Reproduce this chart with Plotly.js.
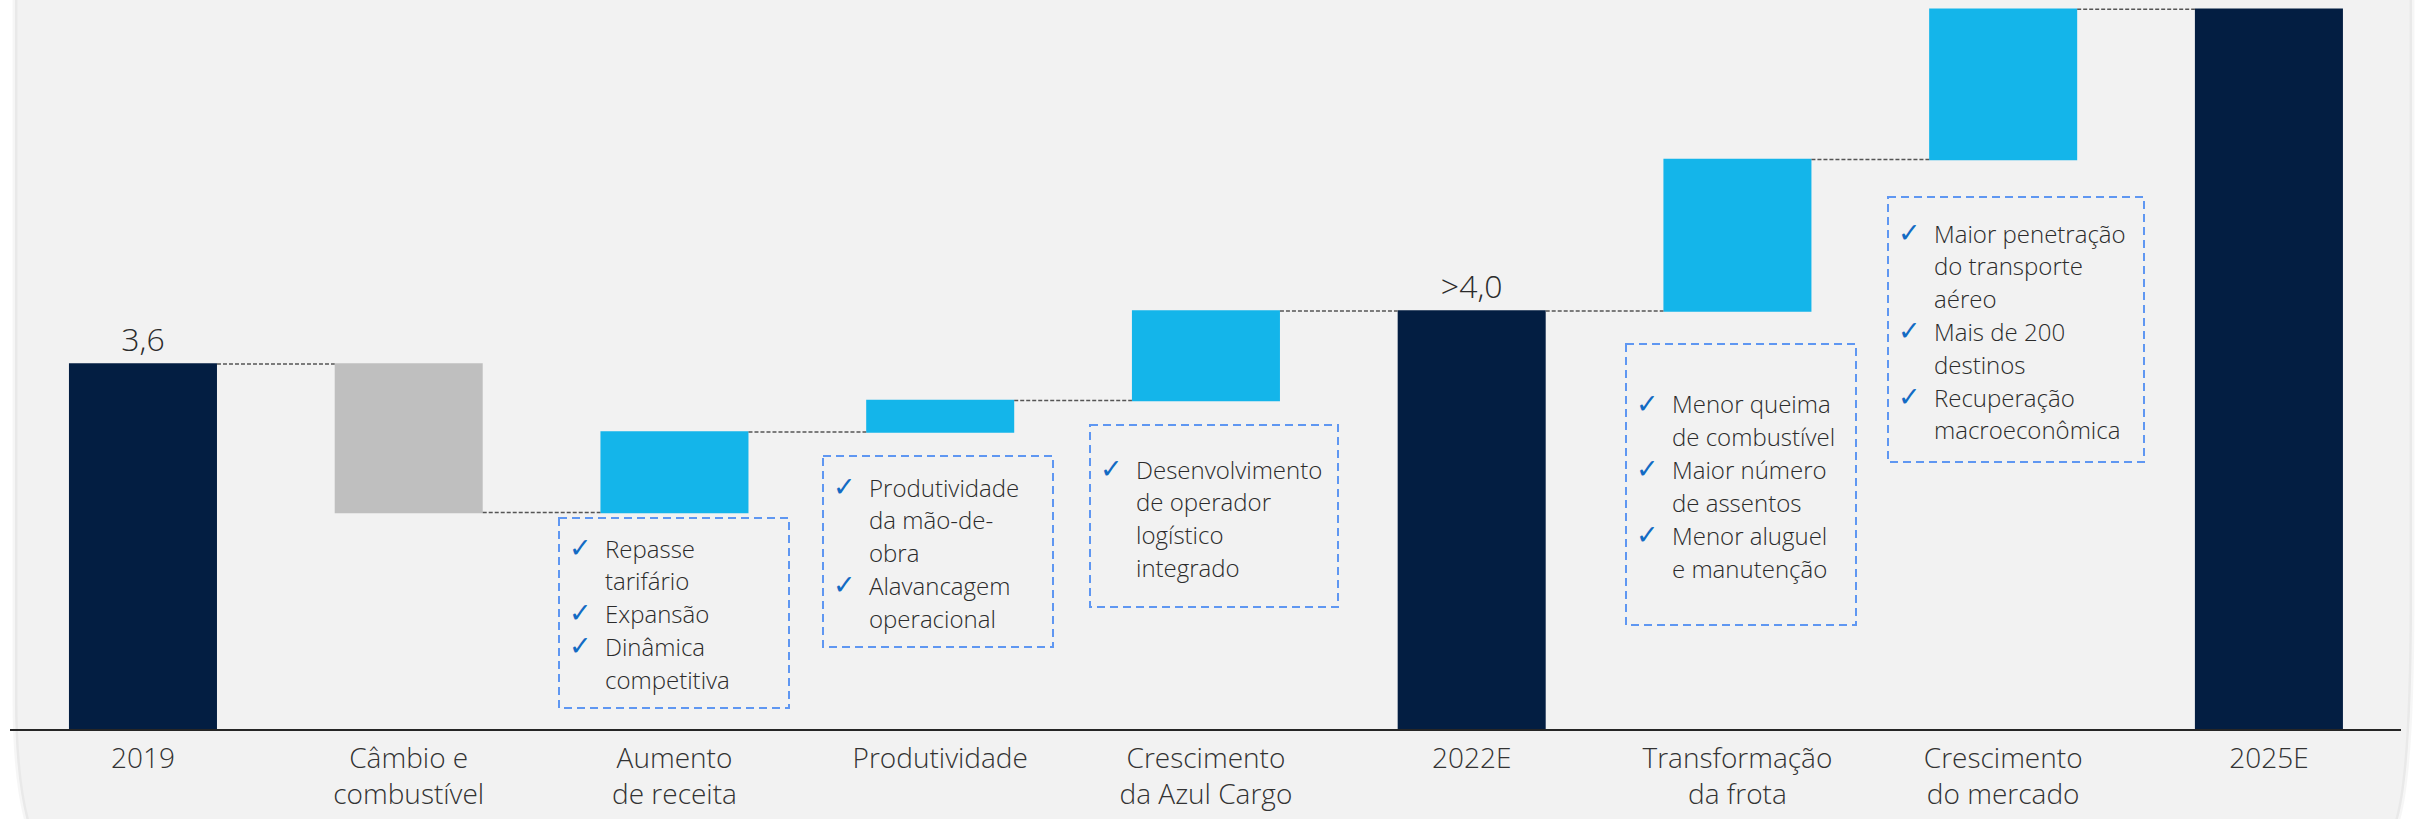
<!DOCTYPE html>
<html>
<head>
<meta charset="utf-8">
<script src="https://cdn.plot.ly/plotly-3.0.1.min.js"></script>
<style>
  html, body { margin: 0; padding: 0; background: #ffffff; }
  #chart { width: 2418px; height: 819px; }
</style>
</head>
<body>
<div id="chart"></div>
<script>
// ---- data ----
const categories = ["2019", "Câmbio e combustível", "Aumento de receita", "Produtividade",
  "Crescimento da Azul Cargo", "2022E", "Transformação da frota", "Crescimento do mercado", "2025E"];
const tickLabels = ["2019", "Câmbio e<br>combustível", "Aumento<br>de receita", "Produtividade",
  "Crescimento<br>da Azul Cargo", "2022E", "Transformação<br>da frota", "Crescimento<br>do mercado", "2025E"];
const measures = ["absolute", "relative", "relative", "relative", "relative", "total", "relative", "relative", "total"];
const values = [3.6, -1.46, 0.79, 0.31, 0.88, 0, 1.49, 1.48, 0];
const valueLabels = ["3,6", "", "", "", "", ">4,0", "", "", ""];

const notesAumento = [["Repasse", "tarifário"], ["Expansão"], ["Dinâmica", "competitiva"]];
const notesProdutividade = [["Produtividade", "da mão-de-", "obra"], ["Alavancagem", "operacional"]];
const notesCargo = [["Desenvolvimento", "de operador", "logístico", "integrado"]];
const notesFrota = [["Menor queima", "de combustível"], ["Maior número", "de assentos"], ["Menor aluguel", "e manutenção"]];
const notesMercado = [["Maior penetração", "do transporte", "aéreo"], ["Mais de 200", "destinos"], ["Recuperação", "macroeconômica"]];

// ---- layout geometry (pixels) ----
const W = 2418, H = 819, MB = 89, PH = H - MB;
const px = p => p / W;
const py = p => 1 - p / PH;

const boxes = [
  { notes: notesAumento,        x0: 559,  y0: 518, x1: 789,  y1: 708, first: 548 },
  { notes: notesProdutividade,  x0: 823,  y0: 456, x1: 1053, y1: 647, first: 487 },
  { notes: notesCargo,          x0: 1090, y0: 425, x1: 1338, y1: 607, first: 469 },
  { notes: notesFrota,          x0: 1626, y0: 344, x1: 1856, y1: 625, first: 404 },
  { notes: notesMercado,        x0: 1888, y0: 197, x1: 2144, y1: 462, first: 233 }
];
const LINE_H = 32.8;

const FONT = "'Open Sans', 'Noto Sans', sans-serif";
const TEXT_COLOR = "#2b2b2b";

const shapes = [];
const annotations = [];

// panel background
shapes.push({
  type: "path", xref: "paper", yref: "paper", layer: "below",
  path: `M ${px(15)},${py(-5)} L ${px(2412)},${py(-5)} L ${px(2412)},${py(600)} ` +
        `Q ${px(2412)},${py(780)} ${px(2396)},${py(825)} L ${px(28)},${py(825)} ` +
        `Q ${px(15)},${py(780)} ${px(15)},${py(700)} Z`,
  fillcolor: "#f2f2f2",
  line: { color: "rgba(0,0,0,0.035)", width: 5 }
});

// baseline axis line
shapes.push({
  type: "line", xref: "paper", yref: "paper", layer: "above",
  x0: px(10), x1: px(2401), y0: py(730), y1: py(730),
  line: { color: "#262626", width: 2 }
});

boxes.forEach(b => {
  shapes.push({
    type: "rect", xref: "paper", yref: "paper", layer: "above",
    x0: px(b.x0), x1: px(b.x1), y0: py(b.y0), y1: py(b.y1),
    line: { color: "#5f97f2", width: 2, dash: "8px,5px" },
    fillcolor: "rgba(0,0,0,0)"
  });
  let li = 0;
  b.notes.forEach(item => {
    annotations.push({
      xref: "paper", yref: "paper", showarrow: false,
      x: px(b.x0 + 21), xanchor: "center",
      y: py(b.first + li * LINE_H - 1), yanchor: "middle",
      text: "✓",
      font: { family: "'DejaVu Sans', sans-serif", size: 27, color: "#136bc4" }
    });
    item.forEach(line => {
      annotations.push({
        xref: "paper", yref: "paper", showarrow: false,
        x: px(b.x0 + 44), xanchor: "left",
        y: py(b.first + li * LINE_H), yanchor: "middle",
        text: line,
        font: { family: FONT, size: 24, color: TEXT_COLOR, weight: 300 }
      });
      li++;
    });
  });
});

const trace = {
  type: "waterfall",
  x: categories,
  y: values,
  measure: measures,
  text: valueLabels,
  textposition: "outside",
  textfont: { family: FONT, size: 32, color: TEXT_COLOR, weight: 300 },
  cliponaxis: false,
  width: 0.557,
  increasing: { marker: { color: "#14b5ea" } },
  decreasing: { marker: { color: "#bfbfbf" } },
  totals: { marker: { color: "#031e42" } },
  connector: { mode: "between", line: { color: "#555555", width: 1.5, dash: "4px,2px" } },
  hoverinfo: "skip"
};

const layout = {
  width: W, height: H,
  margin: { l: 0, r: 0, t: 0, b: MB, pad: 0 },
  paper_bgcolor: "#ffffff",
  plot_bgcolor: "rgba(0,0,0,0)",
  showlegend: false,
  font: { family: FONT, color: TEXT_COLOR },
  xaxis: {
    type: "category",
    range: [-0.538, 8.561],
    tickvals: categories,
    ticktext: tickLabels,
    tickfont: { family: FONT, size: 28, color: "#333333", weight: 300 },
    ticks: "",
    showgrid: false, zeroline: false, showline: false,
    ticklabelstandoff: 9,
    fixedrange: true
  },
  yaxis: {
    range: [0, 7.18],
    visible: false,
    showgrid: false, zeroline: false,
    fixedrange: true
  },
  shapes: shapes,
  annotations: annotations
};

Plotly.newPlot("chart", [trace], layout, { displayModeBar: false, staticPlot: true });
</script>
</body>
</html>
